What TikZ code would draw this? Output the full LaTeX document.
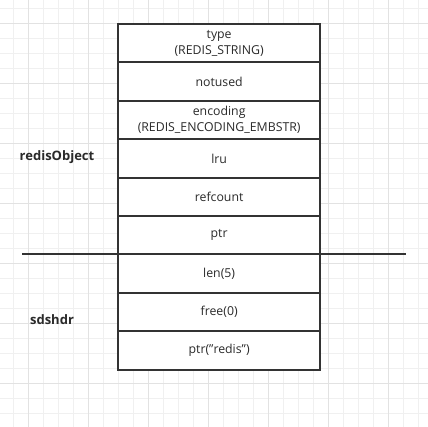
\documentclass[tikz,border=0pt]{standalone}
\usepackage{fontspec}
\setmainfont{Open Sans}
\definecolor{boxc}{HTML}{333333}
\definecolor{txt}{HTML}{2A2A2A}
\definecolor{gminor}{HTML}{F0F0F0}
\definecolor{gmajor}{HTML}{E2E2E2}
\tikzset{
  cell/.style={draw=boxc, line width=2pt, fill=white, minimum width=201.7pt,
    minimum height=38.41pt, inner sep=0pt, outer sep=0pt, align=center,
    font=\fontsize{12.3}{16}\selectfont, text=txt, anchor=north west},
  lbl/.style={font=\fontsize{13}{15}\selectfont\bfseries, text=txt, inner sep=0pt},
  divider/.style={draw=boxc, line width=2pt}
}
\begin{document}
\begin{tikzpicture}[x=1pt,y=-1pt]
\useasboundingbox (0,0) rectangle (428,427);
\fill[white] (0,0) rectangle (428,427);
% grid
\foreach \i in {0,...,28} {
  \draw[gminor, line width=1pt] ({13.33+15*\i},0) -- ({13.33+15*\i},427);
  \draw[gminor, line width=1pt] (0,{8.33+15*\i}) -- (428,{8.33+15*\i});
}
\foreach \i in {0,...,6} {
  \draw[gmajor, line width=1pt] ({28.33+60*\i},0) -- ({28.33+60*\i},427);
  \draw[gmajor, line width=1pt] (0,{23.33+60*\i}) -- (428,{23.33+60*\i});
}
% cells
\node[cell] (type) at (118.3,24) {type\\(REDIS\_STRING)};
\node[cell] (notused) at (118.3,62.41) {notused};
\node[cell] (encoding) at (118.3,100.82) {encoding\\(REDIS\_ENCODING\_EMBSTR)};
\node[cell] (lru) at (118.3,139.23) {lru};
\node[cell] (refcount) at (118.3,177.64) {refcount};
\node[cell] (ptr) at (118.3,216.05) {ptr};
\node[cell] (len) at (118.3,254.46) {len(5)};
\node[cell] (free) at (118.3,292.87) {free(0)};
\node[cell] (ptrredis) at (118.3,331.28) {ptr("redis")};
% divider
\coordinate (dl) at (22,254.46);
\coordinate (dr) at (405.7,254.46);
\draw[divider] (dl) -- (dr);
% labels
\node[lbl] (robj) at (57,157) {redisObject};
\node[lbl] (sds) at (52,320) {sdshdr};
\end{tikzpicture}
\end{document}
